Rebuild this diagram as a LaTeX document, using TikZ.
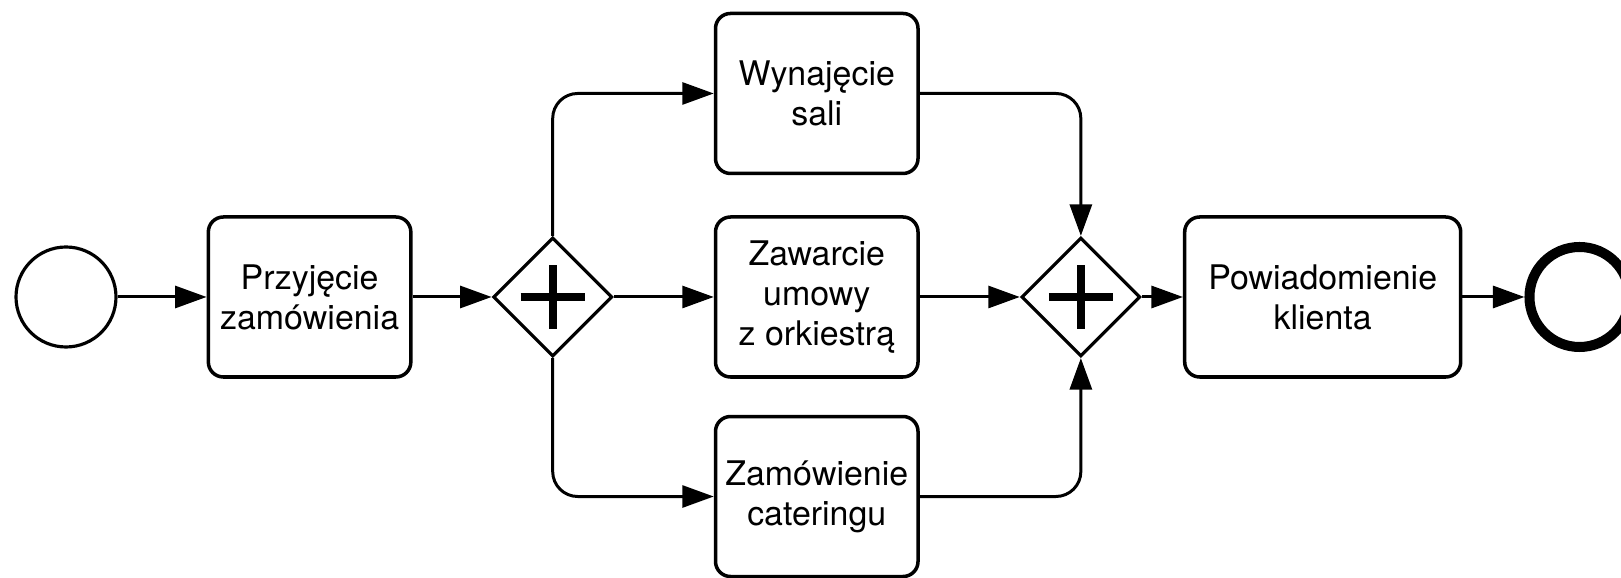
\documentclass[tikz,border=0pt]{standalone}
\usepackage{fontspec}
\setmainfont{TeX Gyre Heros}
\usepackage{tikz}
\usetikzlibrary{arrows.meta, shapes.geometric, positioning}

\begin{document}
\begin{tikzpicture}[
    node distance = 8mm and 20mm,
    task/.style  = {rectangle, draw=black, line width=2pt, rounded corners=3mm,
                    minimum width=4.05cm, minimum height=3.2cm, inner sep=1pt,
                    align=center, font=\fontsize{19.3}{22.8}\selectfont},
    event/.style = {circle, draw=black, line width=1.8pt, minimum size=2cm, inner sep=0pt},
    endev/.style = {event, line width=5.7pt},
    gate/.style  = {diamond, draw=black, line width=1.8pt, minimum size=2.38cm, inner sep=0pt,
                    path picture={
                      \draw[line width=1.6mm] ([xshift=-6.4mm]path picture bounding box.center)
                        -- ([xshift=6.4mm]path picture bounding box.center);
                      \draw[line width=1.6mm] ([yshift=-6.4mm]path picture bounding box.center)
                        -- ([yshift=6.4mm]path picture bounding box.center);}},
    arr/.style   = {-{Triangle[length=6.3mm, width=4.4mm]}, line width=1.7pt}
  ]
  \useasboundingbox[fill=white] (-1.32,-5.62) rectangle (31.10,5.94);

  \node[event] (start) {};
  \node[task, right=1.78cm of start] (order) {Przyjęcie\\zamówienia};
  \node[gate, right=1.58cm of order] (fork) {};
  \node[task, right=2cm of fork] (band) {Zawarcie\\umowy\\z orkiestrą};
  \node[task, above=8mm of band] (hall) {Wynajęcie\\sali};
  \node[task, below=7.2mm of band] (food) {Zamówienie\\cateringu};
  \node[gate, right=2cm of band] (join) {};
  \node[task, right=8.2mm of join, minimum width=5.52cm] (notify) {Powiadomienie\\klienta};
  \node[endev, right=1.24cm of notify] (finish) {};

  \draw[arr] (start) -- (order);
  \draw[arr] (order) -- (fork);
  \draw[arr] (fork) -- (band);
  \draw[arr, rounded corners=5mm] (fork.north) |- (hall);
  \draw[arr, rounded corners=5mm] (fork.south) |- (food);
  \draw[arr, rounded corners=5mm] (hall) -| (join.north);
  \draw[arr] (band) -- (join);
  \draw[arr, rounded corners=5mm] (food) -| (join.south);
  \draw[arr] (join) -- (notify);
  \draw[arr] (notify) -- (finish);
\end{tikzpicture}
\end{document}
